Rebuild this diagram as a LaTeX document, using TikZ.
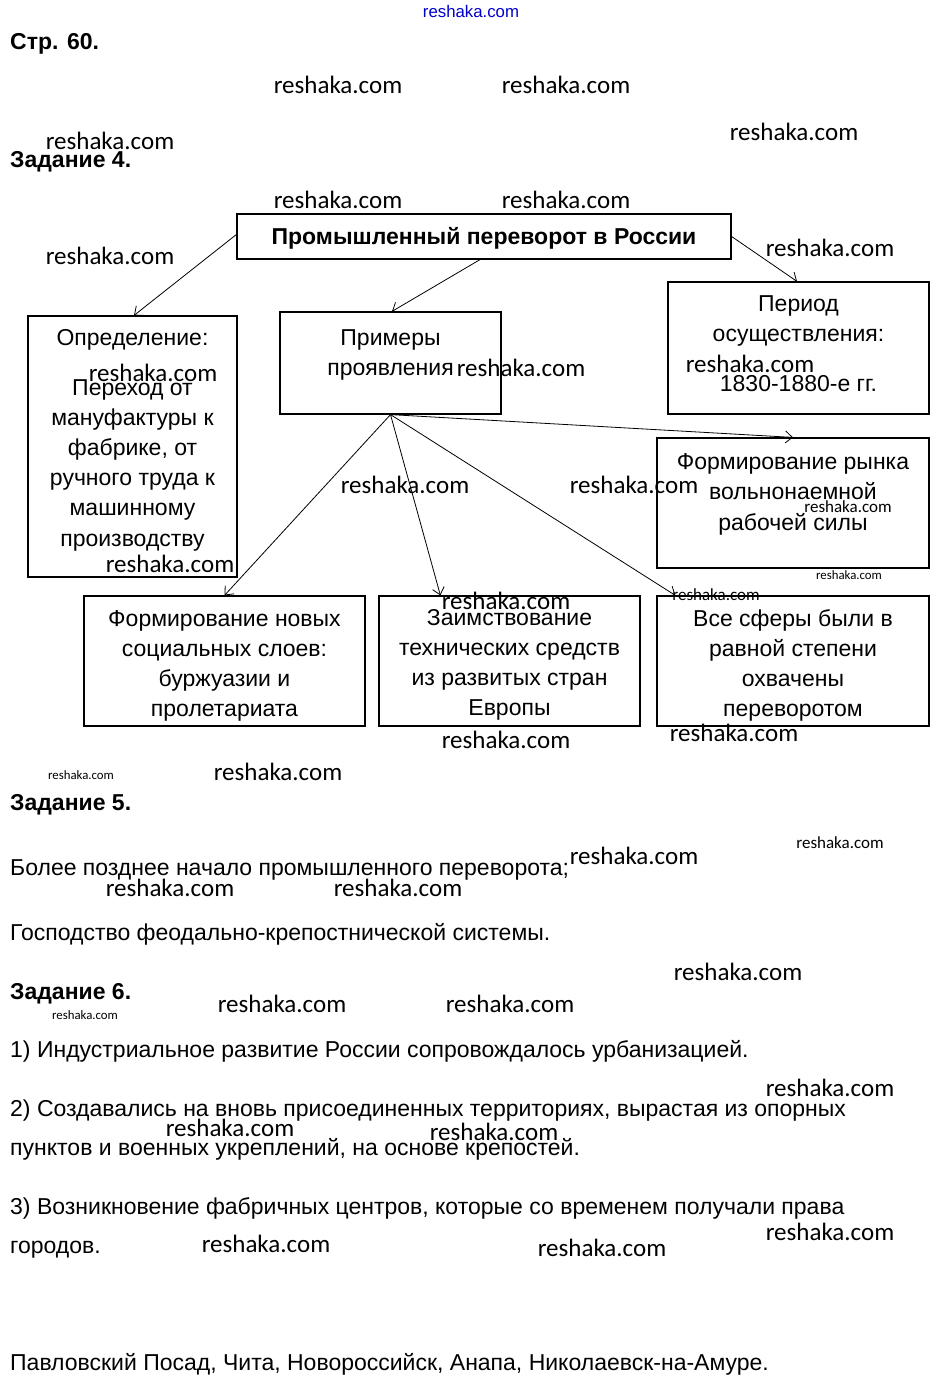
\documentclass[tikz,border=0pt]{standalone}
\usepackage{fontspec}
\setmainfont{Liberation Sans}
\newfontfamily\wmfont{Carlito}
\usetikzlibrary{arrows.meta}
\tikzset{
  txt/.style={font=\fontsize{23}{27}\selectfont, inner sep=0, anchor=base},
  lt/.style={txt, anchor=base west},
  hd/.style={font=\fontsize{23}{27}\selectfont\bfseries, inner sep=0, anchor=base west},
  box/.style={draw, line width=1.2pt, inner sep=0},
  arr/.style={-{Straight Barb[length=7pt,width=12pt]}, line width=0.8pt},
  wm/.style={font=\wmfont\fontsize{25}{28}\selectfont, inner sep=0},
  wms/.style={font=\wmfont\fontsize{12.8}{14}\selectfont, inner sep=0},
  wmm/.style={font=\wmfont\fontsize{17}{19}\selectfont, inner sep=0}
}
\begin{document}
\begin{tikzpicture}[x=1pt,y=-1pt]
\useasboundingbox (0,0) rectangle (940,1389);

% headings and plain text
\node[hd] (h0) at (10,50) {Стр. 60.};
\node[hd] (h4) at (10,167) {Задание 4.};
\node[hd] (h5) at (10,810) {Задание 5.};
\node[lt] (t51) at (10,875) {Более позднее начало промышленного переворота;};
\node[lt] (t52) at (10,940) {Господство феодально-крепостнической системы.};
\node[hd] (h6) at (10,999) {Задание 6.};
\node[lt] (t61) at (10,1057) {1) Индустриальное развитие России сопровождалось урбанизацией.};
\node[lt] (t62) at (10,1116) {2) Создавались на вновь присоединенных территориях, вырастая из опорных};
\node[lt] (t63) at (10,1155) {пунктов и военных укреплений, на основе крепостей.};
\node[lt] (t64) at (10,1214) {3) Возникновение фабричных центров, которые со временем получали права};
\node[lt] (t65) at (10,1253) {городов.};
\node[lt] (t7) at (10,1370) {Павловский Посад, Чита, Новороссийск, Анапа, Николаевск-на-Амуре.};

% boxes
\node[box, minimum width=494pt, minimum height=45pt] (top) at (484,236.5) {};
\node[box, minimum width=209pt, minimum height=261pt] (def) at (132.5,446.5) {};
\node[box, minimum width=221pt, minimum height=102pt] (pr) at (390.5,363) {};
\node[box, minimum width=261pt, minimum height=132pt] (per) at (798.5,348) {};
\node[box, minimum width=272pt, minimum height=130pt] (ryn) at (793,503) {};
\node[box, minimum width=281pt, minimum height=130pt] (b1) at (224.5,661) {};
\node[box, minimum width=261pt, minimum height=130pt] (b2) at (509.5,661) {};
\node[box, minimum width=272pt, minimum height=130pt] (b3) at (793,661) {};

% box texts
\node[txt, font=\fontsize{23}{27}\selectfont\bfseries] (toptxt) at (484,244) {Промышленный переворот в России};
\node[txt] (dl0) at (132.5,345) {Определение:};
\foreach \t [count=\i] in {Переход от, мануфактуры к, {фабрике, от}, ручного труда к, машинному, производству}
  \node[txt] (dl\i) at (132.5,{395+30.2*(\i-1)}) {\t};
\node[txt] (pr1) at (390.5,345) {Примеры};
\node[txt] (pr2) at (390.5,375) {проявления};
\node[txt] (pe1) at (798.5,311) {Период};
\node[txt] (pe2) at (798.5,341) {осуществления:};
\node[txt] (pe3) at (798.5,391) {1830-1880-е гг.};
\foreach \t [count=\i] in {Формирование рынка, вольнонаемной, рабочей силы}
  \node[txt] (ry\i) at (793,{469+30.5*(\i-1)}) {\t};
\foreach \t [count=\i] in {Формирование новых, социальных слоев:, буржуазии и, пролетариата}
  \node[txt] (ba\i) at (224.5,{626+30.3*(\i-1)}) {\t};
\foreach \t [count=\i] in {Заимствование, технических средств, из развитых стран, Европы}
  \node[txt] (bb\i) at (509.5,{625+30*(\i-1)}) {\t};
\foreach \t [count=\i] in {Все сферы были в, равной степени, охвачены, переворотом}
  \node[txt] (bc\i) at (793,{626+30.3*(\i-1)}) {\t};

% connectors
\draw[arr] ([yshift=2pt]top.west) -- ([xshift=1.5pt]def.north);
\draw[arr] ([xshift=-4pt]top.south) -- ([xshift=1.5pt]pr.north);
\draw[arr] (top.east) -- ([xshift=-1.5pt]per.north);
\draw[arr] (pr.south) -- (ryn.north);
\draw[arr] (pr.south) -- (b1.north);
\draw[arr] (pr.south) -- ([xshift=62pt]b2.north west);
\draw[arr] (pr.south) -- ([xshift=19pt]b3.north west);

% watermarks
\node[font=\fontsize{16.8}{19}\selectfont, text=blue!80!black, inner sep=0] (wm0) at (471,11) {reshaka.com};
\foreach \x/\y [count=\i] in {338/85,566/85,794/132,110/141,338/200,566/200,110/256,830/248,153/373,521/368,750/364,405/485,634/485,170/564,506/601,506/740,734/733,278/772,634/856,170/888,398/888,738/972,282/1004,510/1004,830/1088,230/1128,494/1132,266/1244,602/1248,830/1232}
  \node[wm] (wm\i) at (\x,\y) {reshaka.com};
\foreach \x/\y [count=\i] in {81/775,849/575,85/1015}
  \node[wms] (ws\i) at (\x,\y) {reshaka.com};
\foreach \x/\y [count=\i] in {848/507,716/595,840/843}
  \node[wmm] (wmm\i) at (\x,\y) {reshaka.com};
\end{tikzpicture}
\end{document}
